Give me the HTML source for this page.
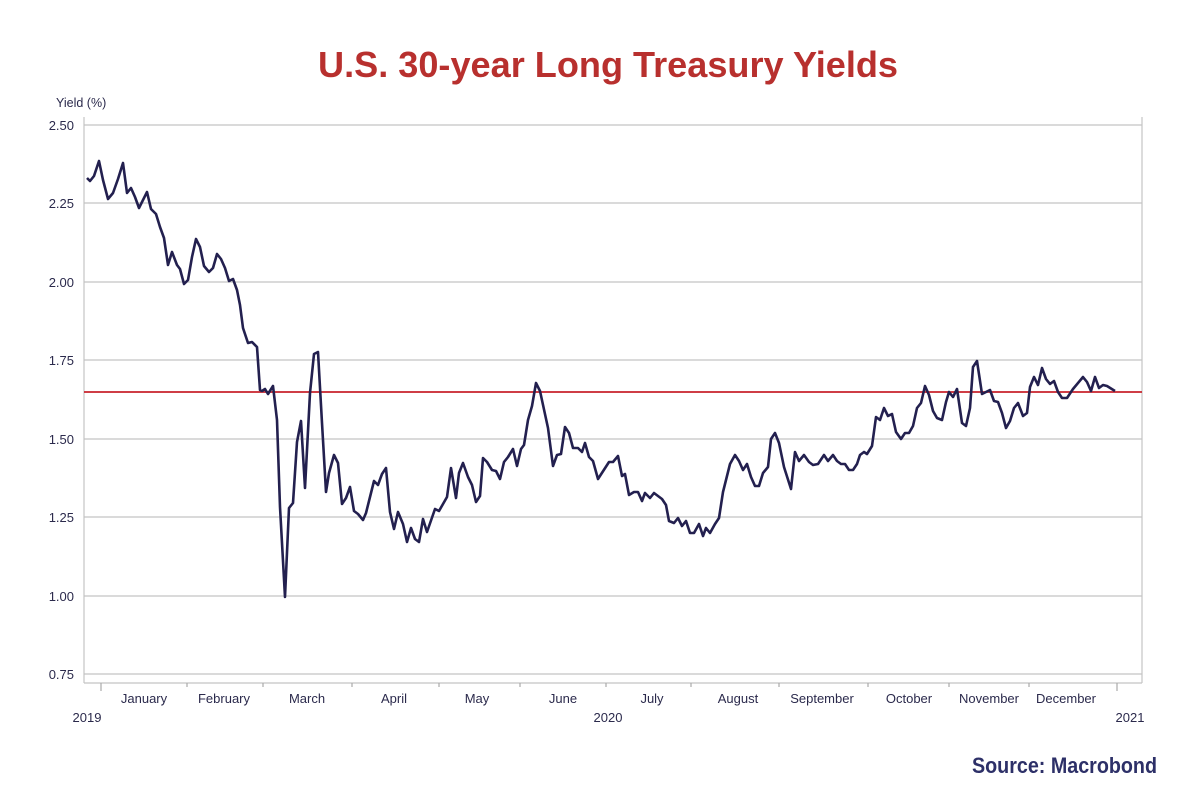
<!DOCTYPE html>
<html><head><meta charset="utf-8"><style>
html,body{margin:0;padding:0;background:#fff;}
svg{display:block;}
text{font-family:"Liberation Sans",sans-serif;}
</style></head><body>
<svg width="1200" height="800" viewBox="0 0 1200 800" xmlns="http://www.w3.org/2000/svg">
<rect width="1200" height="800" fill="#fff"/>
<text x="608" y="77" text-anchor="middle" font-size="36" font-weight="bold" fill="#b8302e" textLength="580" lengthAdjust="spacingAndGlyphs">U.S. 30-year Long Treasury Yields</text>
<text x="56" y="107" font-size="12.5" fill="#2b2a4c">Yield (%)</text>
<g stroke="#c4c4c4" stroke-width="1.2">
<line x1="84" y1="125" x2="1142" y2="125"/>
<line x1="84" y1="203" x2="1142" y2="203"/>
<line x1="84" y1="282" x2="1142" y2="282"/>
<line x1="84" y1="360" x2="1142" y2="360"/>
<line x1="84" y1="439" x2="1142" y2="439"/>
<line x1="84" y1="517" x2="1142" y2="517"/>
<line x1="84" y1="596" x2="1142" y2="596"/>
<line x1="84" y1="674" x2="1142" y2="674"/>
<line x1="84" y1="117" x2="84" y2="683"/>
<line x1="1142" y1="117" x2="1142" y2="683"/>
<line x1="84" y1="683" x2="1142" y2="683"/>
</g>
<g stroke="#aaa" stroke-width="1.2">
<line x1="101" y1="683" x2="101" y2="691"/>
<line x1="187" y1="683" x2="187" y2="687"/>
<line x1="263" y1="683" x2="263" y2="687"/>
<line x1="352" y1="683" x2="352" y2="687"/>
<line x1="439" y1="683" x2="439" y2="687"/>
<line x1="520" y1="683" x2="520" y2="687"/>
<line x1="606" y1="683" x2="606" y2="687"/>
<line x1="691" y1="683" x2="691" y2="687"/>
<line x1="779" y1="683" x2="779" y2="687"/>
<line x1="868" y1="683" x2="868" y2="687"/>
<line x1="949" y1="683" x2="949" y2="687"/>
<line x1="1029" y1="683" x2="1029" y2="687"/>
<line x1="1117" y1="683" x2="1117" y2="691"/>
</g>
<g font-size="13" fill="#2b2a4c" text-anchor="end">
<text x="74" y="130">2.50</text>
<text x="74" y="208">2.25</text>
<text x="74" y="287">2.00</text>
<text x="74" y="365">1.75</text>
<text x="74" y="444">1.50</text>
<text x="74" y="522">1.25</text>
<text x="74" y="601">1.00</text>
<text x="74" y="679">0.75</text>
</g>
<g font-size="13" fill="#2b2a4c" text-anchor="middle">
<text x="144" y="703">January</text>
<text x="224" y="703">February</text>
<text x="307" y="703">March</text>
<text x="394" y="703">April</text>
<text x="477" y="703">May</text>
<text x="563" y="703">June</text>
<text x="652" y="703">July</text>
<text x="738" y="703">August</text>
<text x="822" y="703">September</text>
<text x="909" y="703">October</text>
<text x="989" y="703">November</text>
<text x="1066" y="703">December</text>
<text x="87" y="722">2019</text>
<text x="608" y="722">2020</text>
<text x="1130" y="722">2021</text>
</g>
<line x1="84" y1="392" x2="1142" y2="392" stroke="#c8232c" stroke-width="1.8"/>
<polyline fill="none" stroke="#23204f" stroke-width="2.6" stroke-linejoin="round" points="
87,178 90,181 94,176 99,161 103,180 108,199 113,193 118,179 123,163 127,193 131,188 135,197 139,208 143,200 147,192 151,209 156,214 160,227 164,238 168,265 172,252 177,265 180,269 184,284 188,280 192,257 196,239 200,247 204,266 209,272 213,268 217,254 221,259 225,268 229,281 233,279 237,290 240,305 243,328 248,343 252,342 257,347 260,390 262,391 265,389 268,394 273,386 277,420 280,507 285,597 289,508 293,503 297,442 301,421 305,488 310,393 314,354 318,352 322,423 326,492 329,473 334,455 338,463 342,504 346,498 350,487 354,511 358,514 363,520 366,513 370,497 374,481 378,485 382,474 386,468 390,512 394,529 398,512 403,524 407,542 411,528 415,539 419,542 423,519 427,532 435,509 439,511 447,497 451,468 456,498 459,473 463,463 468,477 472,485 476,502 480,496 483,458 487,462 492,470 496,471 500,479 504,462 508,457 513,449 517,466 521,449 524,445 528,420 532,406 536,383 540,391 548,428 553,466 557,455 561,454 565,427 569,433 573,448 578,448 582,452 585,443 589,457 593,461 598,479 609,462 613,462 618,456 622,476 625,474 629,495 634,492 638,492 642,501 645,493 650,498 654,493 662,499 666,505 669,521 674,523 678,518 682,526 686,521 690,533 694,533 699,524 703,536 706,528 710,533 715,524 719,518 723,492 730,464 735,455 739,461 743,470 747,464 751,477 755,486 759,486 763,473 768,467 771,439 775,433 779,443 784,467 791,489 795,452 799,461 804,455 809,462 813,465 818,464 824,455 828,461 833,455 837,461 841,464 845,464 849,470 853,470 857,464 860,455 864,452 867,454 872,446 876,417 880,420 884,408 888,416 892,414 896,432 901,439 905,433 909,433 913,426 917,408 921,403 925,386 929,395 933,411 937,418 942,420 946,402 949,392 953,397 957,389 962,423 966,426 970,408 973,367 977,361 982,394 986,392 990,390 994,401 998,402 1002,413 1006,428 1010,421 1014,408 1018,403 1023,416 1027,413 1030,387 1034,377 1038,385 1042,368 1046,379 1050,384 1054,381 1058,392 1062,398 1067,398 1073,389 1083,377 1087,382 1091,391 1095,377 1099,388 1103,385 1107,386 1115,391"/>
<text x="1157" y="773" text-anchor="end" font-size="22" font-weight="bold" fill="#2d3068" textLength="185" lengthAdjust="spacingAndGlyphs">Source: Macrobond</text>
</svg>
</body></html>
